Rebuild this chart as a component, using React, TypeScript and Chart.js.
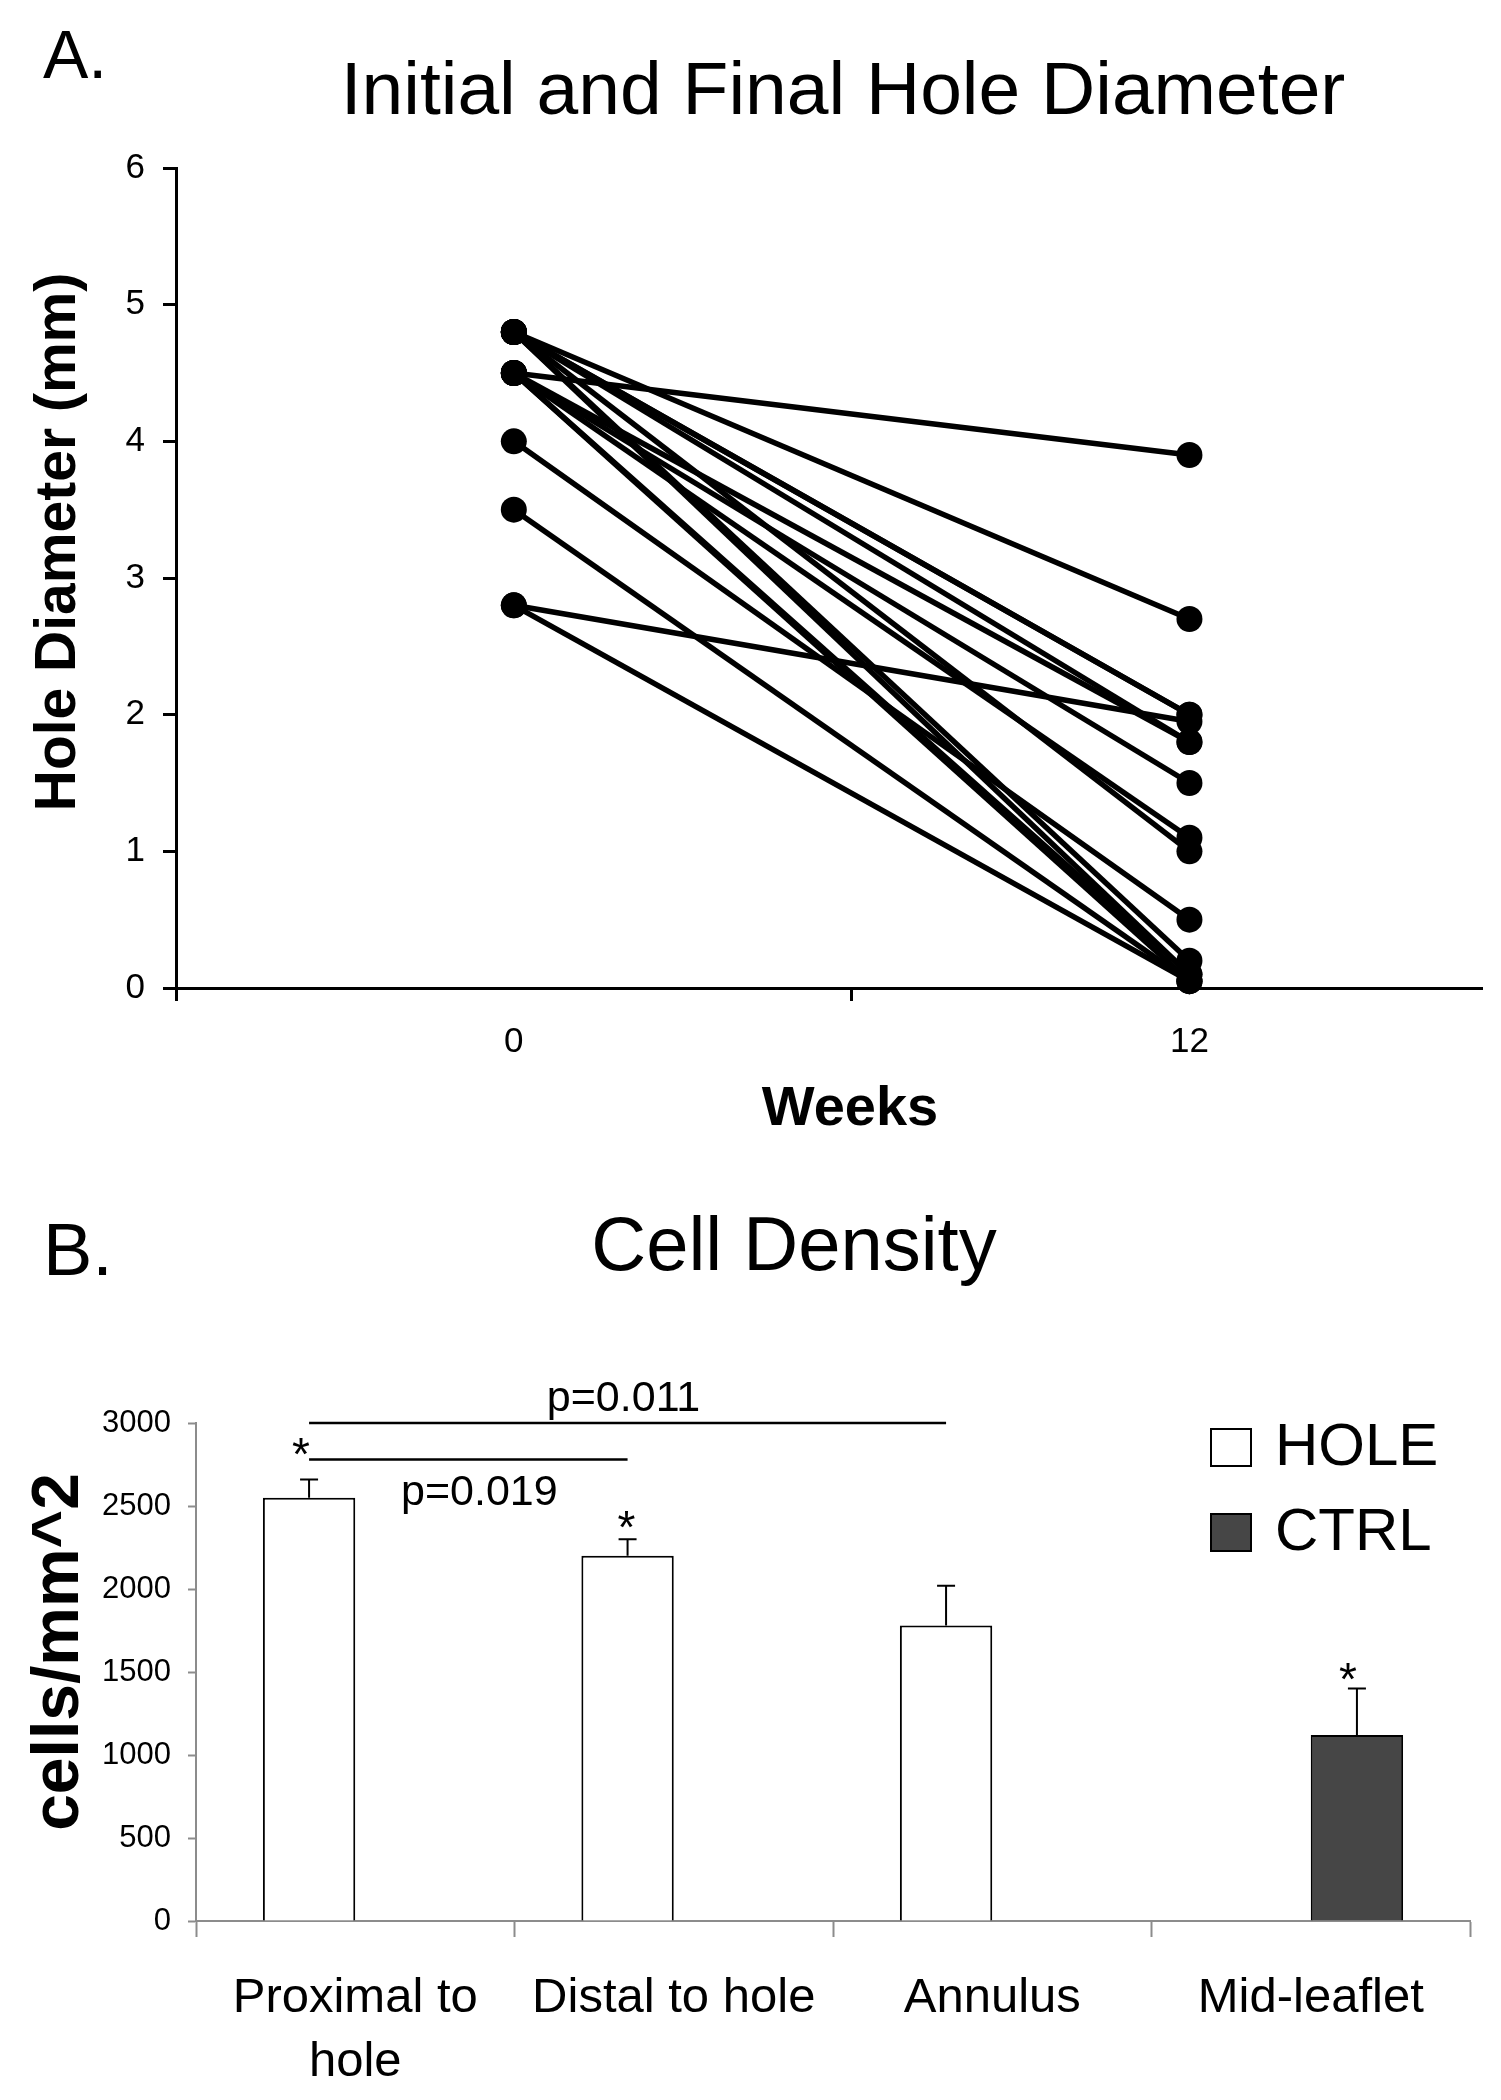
import React, { useEffect, useRef } from 'react';
import { Chart, registerables } from 'chart.js';

Chart.register(...registerables);

const FONT = '"Liberation Sans", Arial, Helvetica, sans-serif';

// ---------------- Panel A: Initial and Final Hole Diameter ----------------
const panelALabel = 'A.';
const panelATitle = 'Initial and Final Hole Diameter';
const panelAYTitle = 'Hole Diameter (mm)';
const panelAXTitle = 'Weeks';
const weekLabels = ['0', '12'];
const weekPositions = [0, 1];
const diameterAtWeek0 = [4.5, 4.8, 4.8, 4.8, 2.8, 4.8, 4.5, 4.5, 4.5, 4.8, 4.0, 4.8, 4.5, 4.8, 4.5, 3.5, 2.8];
const diameterAtWeek12 = [3.9, 2.7, 2.0, 2.0, 1.95, 1.8, 1.8, 1.5, 1.1, 1.0, 0.5, 0.2, 0.1, 0.1, 0.05, 0.05, 0.05];
const diameterTickValues = [0, 1, 2, 3, 4, 5, 6];

// ---------------- Panel B: Cell Density ----------------
const panelBLabel = 'B.';
const panelBTitle = 'Cell Density';
const panelBYTitle = 'cells/mm^2';
const regionLabels = [['Proximal to', 'hole'], 'Distal to hole', 'Annulus', 'Mid-leaflet'];
const seriesNames = ['HOLE', 'CTRL'];
const holeDensity = [2550, 2200, 1780, null];
const holeError = [110, 100, 240, null];
const ctrlDensity = [null, null, null, 1120];
const ctrlError = [null, null, null, 280];
const densityTickValues = [0, 500, 1000, 1500, 2000, 2500, 3000];
const starredBars = [
  { dataset: 0, index: 0 },
  { dataset: 0, index: 1 },
  { dataset: 1, index: 3 },
];
const pComparisons = [
  { from: 0, to: 2, level: 3000, label: 'p=0.011' },
  { from: 0, to: 1, level: 2780, label: 'p=0.019' },
];

// ---------------- overlay plugins (titles, labels, annotations) ----------------
const panelAOverlay = {
  id: 'panelAOverlay',
  afterDraw(chart: any) {
    const ctx = chart.ctx;
    ctx.save();
    ctx.fillStyle = '#000';
    ctx.textBaseline = 'alphabetic';
    ctx.textAlign = 'left';
    ctx.font = `68px ${FONT}`;
    ctx.fillText(panelALabel, 43, 78);
    ctx.textAlign = 'center';
    ctx.font = `75px ${FONT}`;
    ctx.fillText(panelATitle, 843, 114);
    ctx.font = `bold 56px ${FONT}`;
    ctx.fillText(panelAXTitle, 850, 1125);
    ctx.save();
    ctx.translate(75, 542);
    ctx.rotate(-Math.PI / 2);
    ctx.font = `bold 57px ${FONT}`;
    ctx.fillText(panelAYTitle, 0, 0);
    ctx.restore();
    ctx.restore();
  },
};

const errorSets = [holeError, ctrlError];
const starOffsets = [
  { dx: -8, dy: -9 },
  { dx: -1, dy: 4 },
  { dx: -9, dy: 6 },
];
const comparisonTextStyle = [
  { dx: -4, dy: -12 },
  { dx: 11, dy: 45 },
];

const panelBOverlay = {
  id: 'panelBOverlay',
  afterDatasetsDraw(chart: any) {
    const ctx = chart.ctx;
    const yScale = chart.scales.y;
    ctx.save();
    ctx.strokeStyle = '#000';
    ctx.lineWidth = 2;
    errorSets.forEach((errs, d) => {
      const meta = chart.getDatasetMeta(d);
      const vals = chart.data.datasets[d].data;
      meta.data.forEach((bar: any, i: number) => {
        const v = vals[i];
        const e = errs[i];
        if (v == null || e == null) return;
        const top = yScale.getPixelForValue(v + e);
        ctx.beginPath();
        ctx.moveTo(bar.x, bar.y);
        ctx.lineTo(bar.x, top);
        ctx.moveTo(bar.x - 9, top);
        ctx.lineTo(bar.x + 9, top);
        ctx.stroke();
      });
    });
    ctx.restore();
  },
  afterDraw(chart: any) {
    const ctx = chart.ctx;
    const yScale = chart.scales.y;
    ctx.save();
    ctx.fillStyle = '#000';
    ctx.textBaseline = 'alphabetic';
    ctx.textAlign = 'left';
    ctx.font = `74px ${FONT}`;
    ctx.fillText(panelBLabel, 43, 125);
    ctx.textAlign = 'center';
    ctx.font = `76px ${FONT}`;
    ctx.fillText(panelBTitle, 794, 120);
    ctx.save();
    ctx.translate(78, 502);
    ctx.rotate(-Math.PI / 2);
    ctx.font = `bold 66px ${FONT}`;
    ctx.fillText(panelBYTitle, 0, 0);
    ctx.restore();

    // legend
    chart.data.datasets.forEach((ds: any, i: number) => {
      const bx = 1210;
      const by = 278 + i * 85;
      ctx.fillStyle = ds.backgroundColor;
      ctx.fillRect(bx, by, 42, 39);
      ctx.strokeStyle = '#000';
      ctx.lineWidth = 2;
      ctx.strokeRect(bx + 1, by + 1, 40, 37);
      ctx.fillStyle = '#000';
      ctx.textAlign = 'left';
      ctx.font = `60px ${FONT}`;
      ctx.fillText(ds.label, 1275, 315 + i * 85);
    });

    // significance comparisons
    const meta0 = chart.getDatasetMeta(0);
    ctx.strokeStyle = '#000';
    ctx.lineWidth = 2.5;
    pComparisons.forEach((c, k) => {
      const x1 = meta0.data[c.from].x;
      const x2 = meta0.data[c.to].x;
      const yy = yScale.getPixelForValue(c.level);
      ctx.beginPath();
      ctx.moveTo(x1, yy);
      ctx.lineTo(x2, yy);
      ctx.stroke();
      const st = comparisonTextStyle[k];
      ctx.textAlign = 'center';
      ctx.font = `43px ${FONT}`;
      ctx.fillText(c.label, (x1 + x2) / 2 + st.dx, yy + st.dy);
    });

    // stars
    ctx.font = `46px ${FONT}`;
    ctx.textAlign = 'center';
    starredBars.forEach((s, k) => {
      const bar = chart.getDatasetMeta(s.dataset).data[s.index];
      const v = chart.data.datasets[s.dataset].data[s.index];
      const e = errorSets[s.dataset][s.index] || 0;
      const top = yScale.getPixelForValue(v + e);
      const o = starOffsets[k];
      ctx.fillText('*', bar.x + o.dx, top + o.dy);
    });
    ctx.restore();
  },
};

export default function App() {
  const refA = useRef<HTMLCanvasElement>(null);
  const refB = useRef<HTMLCanvasElement>(null);

  useEffect(() => {
    const chartA = new Chart(refA.current as HTMLCanvasElement, {
      type: 'line',
      data: {
        datasets: diameterAtWeek0.map((v0, i) => ({
          label: `Subject ${i + 1}`,
          data: [
            { x: weekPositions[0], y: v0 },
            { x: weekPositions[1], y: diameterAtWeek12[i] },
          ],
          borderColor: '#000',
          backgroundColor: '#000',
          borderWidth: 5.5,
          pointRadius: 13,
          pointHoverRadius: 13,
          pointBorderWidth: 0,
          pointBackgroundColor: '#000',
          tension: 0,
          clip: false as any,
        })),
      },
      options: {
        responsive: false,
        maintainAspectRatio: false,
        animation: false,
        devicePixelRatio: 1,
        events: [],
        layout: { padding: { left: 0, top: 168, right: 19, bottom: 0 } },
        plugins: {
          legend: { display: false },
          tooltip: { enabled: false },
          title: { display: false },
        },
        scales: {
          x: {
            type: 'linear',
            min: -0.5,
            max: 1.433,
            afterBuildTicks: (s: any) => {
              s.ticks = [-0.5, weekPositions[0], 0.5, weekPositions[1]].map((value) => ({ value }));
            },
            afterFit: (s: any) => {
              s.height = 162;
            },
            ticks: {
              autoSkip: false,
              maxRotation: 0,
              padding: 20,
              color: '#000',
              font: { family: FONT, size: 35 },
              callback: (value: any) => {
                const idx = weekPositions.indexOf(value);
                return idx >= 0 ? weekLabels[idx] : '';
              },
            },
            grid: {
              drawOnChartArea: false,
              drawTicks: true,
              tickLength: 13,
              tickWidth: 3,
              tickColor: (c: any) =>
                c.tick && weekPositions.indexOf(c.tick.value) >= 0 ? 'rgba(0,0,0,0)' : '#000',
            },
            border: { display: true, color: '#000', width: 3 },
          },
          y: {
            min: 0,
            max: 6,
            afterBuildTicks: (s: any) => {
              s.ticks = diameterTickValues.map((value) => ({ value }));
            },
            afterFit: (s: any) => {
              s.width = 176;
            },
            ticks: {
              padding: 18,
              color: '#000',
              font: { family: FONT, size: 35 },
              callback: (value: any) => String(value),
            },
            grid: {
              drawOnChartArea: false,
              drawTicks: true,
              tickLength: 13,
              tickWidth: 3,
              tickColor: '#000',
            },
            border: { display: true, color: '#000', width: 3 },
          },
        },
      } as any,
      plugins: [panelAOverlay],
    });

    const chartB = new Chart(refB.current as HTMLCanvasElement, {
      type: 'bar',
      data: {
        labels: regionLabels as any,
        datasets: [
          {
            label: seriesNames[0],
            data: holeDensity as any,
            backgroundColor: '#ffffff',
            borderColor: '#000000',
            borderWidth: 2,
            barPercentage: 1,
            categoryPercentage: 0.58,
          },
          {
            label: seriesNames[1],
            data: ctrlDensity as any,
            backgroundColor: '#464646',
            borderColor: '#000000',
            borderWidth: 2,
            barPercentage: 1,
            categoryPercentage: 0.58,
          },
        ],
      },
      options: {
        responsive: false,
        maintainAspectRatio: false,
        animation: false,
        devicePixelRatio: 1,
        events: [],
        layout: { padding: { left: 0, top: 273, right: 31, bottom: 0 } },
        plugins: {
          legend: { display: false },
          tooltip: { enabled: false },
          title: { display: false },
        },
        scales: {
          x: {
            afterFit: (s: any) => {
              s.height = 179;
            },
            ticks: {
              autoSkip: false,
              maxRotation: 0,
              padding: 30,
              color: '#000',
              font: { family: FONT, size: 49, lineHeight: 1.3 },
            },
            grid: {
              offset: true,
              drawOnChartArea: false,
              drawTicks: true,
              tickLength: 16,
              tickWidth: 2,
              tickColor: '#8c8c8c',
            },
            border: { display: true, color: '#8c8c8c', width: 2 },
          },
          y: {
            min: 0,
            max: 3000,
            afterBuildTicks: (s: any) => {
              s.ticks = densityTickValues.map((value) => ({ value }));
            },
            afterFit: (s: any) => {
              s.width = 196;
            },
            ticks: {
              padding: 17,
              color: '#000',
              font: { family: FONT, size: 31 },
              callback: (value: any) => String(value),
            },
            grid: {
              drawOnChartArea: false,
              drawTicks: true,
              tickLength: 8,
              tickWidth: 2,
              tickColor: '#8c8c8c',
            },
            border: { display: true, color: '#8c8c8c', width: 2 },
          },
        },
      } as any,
      plugins: [panelBOverlay],
    });

    return () => {
      chartA.destroy();
      chartB.destroy();
    };
  }, []);

  return (
    <div style={{ position: 'absolute', left: 0, top: 0, width: 1501, height: 2100, background: '#fff' }}>
      <canvas
        ref={refA}
        width={1501}
        height={1150}
        style={{ position: 'absolute', left: 0, top: 0, width: 1501, height: 1150, display: 'block' }}
      />
      <canvas
        ref={refB}
        width={1501}
        height={950}
        style={{ position: 'absolute', left: 0, top: 1150, width: 1501, height: 950, display: 'block' }}
      />
    </div>
  );
}
